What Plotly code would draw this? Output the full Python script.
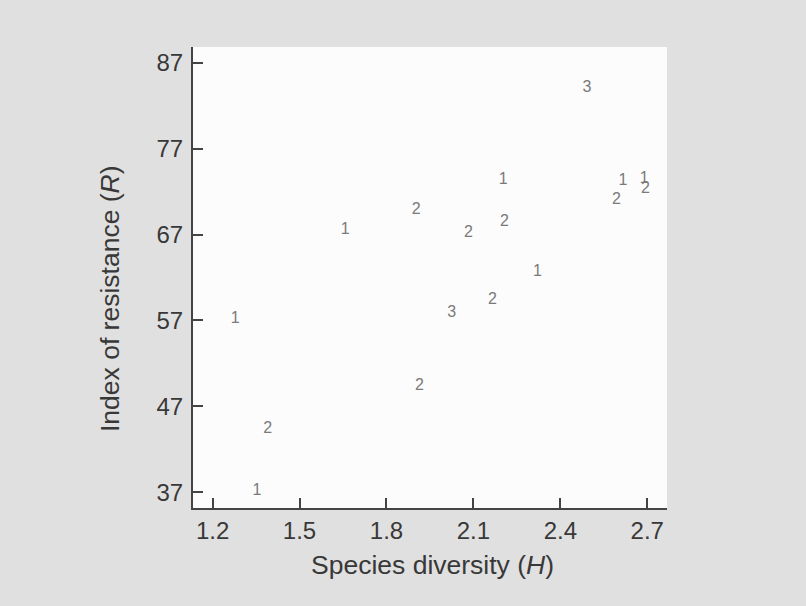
import plotly.graph_objects as go

# Species diversity (H)
diversity = [1.278, 1.353, 1.390, 1.658, 1.903, 1.914, 2.025, 2.083, 2.166,
             2.203, 2.207, 2.321, 2.492, 2.594, 2.616, 2.689, 2.694]
# Index of resistance (R)
resistance = [57.2, 37.2, 44.4, 67.5, 69.8, 49.4, 57.9, 67.2, 59.4,
              73.4, 68.5, 62.6, 84.1, 71.0, 73.2, 73.5, 72.3]
# number of coincident observations shown at each point
counts = ["1", "1", "2", "1", "2", "2", "3", "2", "2",
          "1", "2", "1", "3", "2", "1", "1", "2"]

x_ticks = [1.2, 1.5, 1.8, 2.1, 2.4, 2.7]
y_ticks = [37, 47, 57, 67, 77, 87]

x_title = "Species diversity (<i>H</i>)"
y_title = "Index of resistance (<i>R</i>)"

FONT = "Liberation Sans, Arial, sans-serif"
AX = "#444444"
TXT = "#383838"

fig = go.Figure()
fig.add_trace(go.Scatter(
    x=diversity, y=resistance, mode="text", text=counts,
    textposition="middle center",
    textfont=dict(family=FONT, size=16, color="#7a7a7a"),
    hoverinfo="x+y", showlegend=False,
))

fig.update_layout(
    width=806, height=606,
    margin=dict(l=193, r=139, t=47, b=98, pad=0),
    paper_bgcolor="#e0e0e0",
    plot_bgcolor="#fcfcfc",
    font=dict(family=FONT, color=TXT, size=24),
    showlegend=False,
    annotations=[
        dict(text=x_title, xref="paper", yref="paper", x=0.506, y=-0.1236,
             xanchor="center", yanchor="middle", showarrow=False,
             font=dict(size=26.5, color=TXT)),
        dict(text=y_title, xref="paper", yref="paper", x=-0.175, y=0.4534,
             xanchor="center", yanchor="middle", showarrow=False, textangle=-90,
             font=dict(size=26.5, color=TXT)),
    ],
)

fig.update_xaxes(
    range=[1.1324, 2.768], tickmode="array", tickvals=x_ticks,
    ticktext=[f"{v:.1f}" for v in x_ticks],
    ticks="inside", ticklen=10, tickwidth=2, tickcolor=AX,
    showline=True, linecolor=AX, linewidth=2, showgrid=False, zeroline=False,
    tickfont=dict(size=24, color=TXT), ticklabelstandoff=0,
)
fig.update_yaxes(
    range=[35.17, 88.83], tickmode="array", tickvals=y_ticks,
    ticktext=[str(v) for v in y_ticks],
    ticks="inside", ticklen=10, tickwidth=2, tickcolor=AX,
    showline=True, linecolor=AX, linewidth=2, showgrid=False, zeroline=False,
    tickfont=dict(size=24, color=TXT), ticklabelstandoff=3,
)

fig.write_html("out.html")
